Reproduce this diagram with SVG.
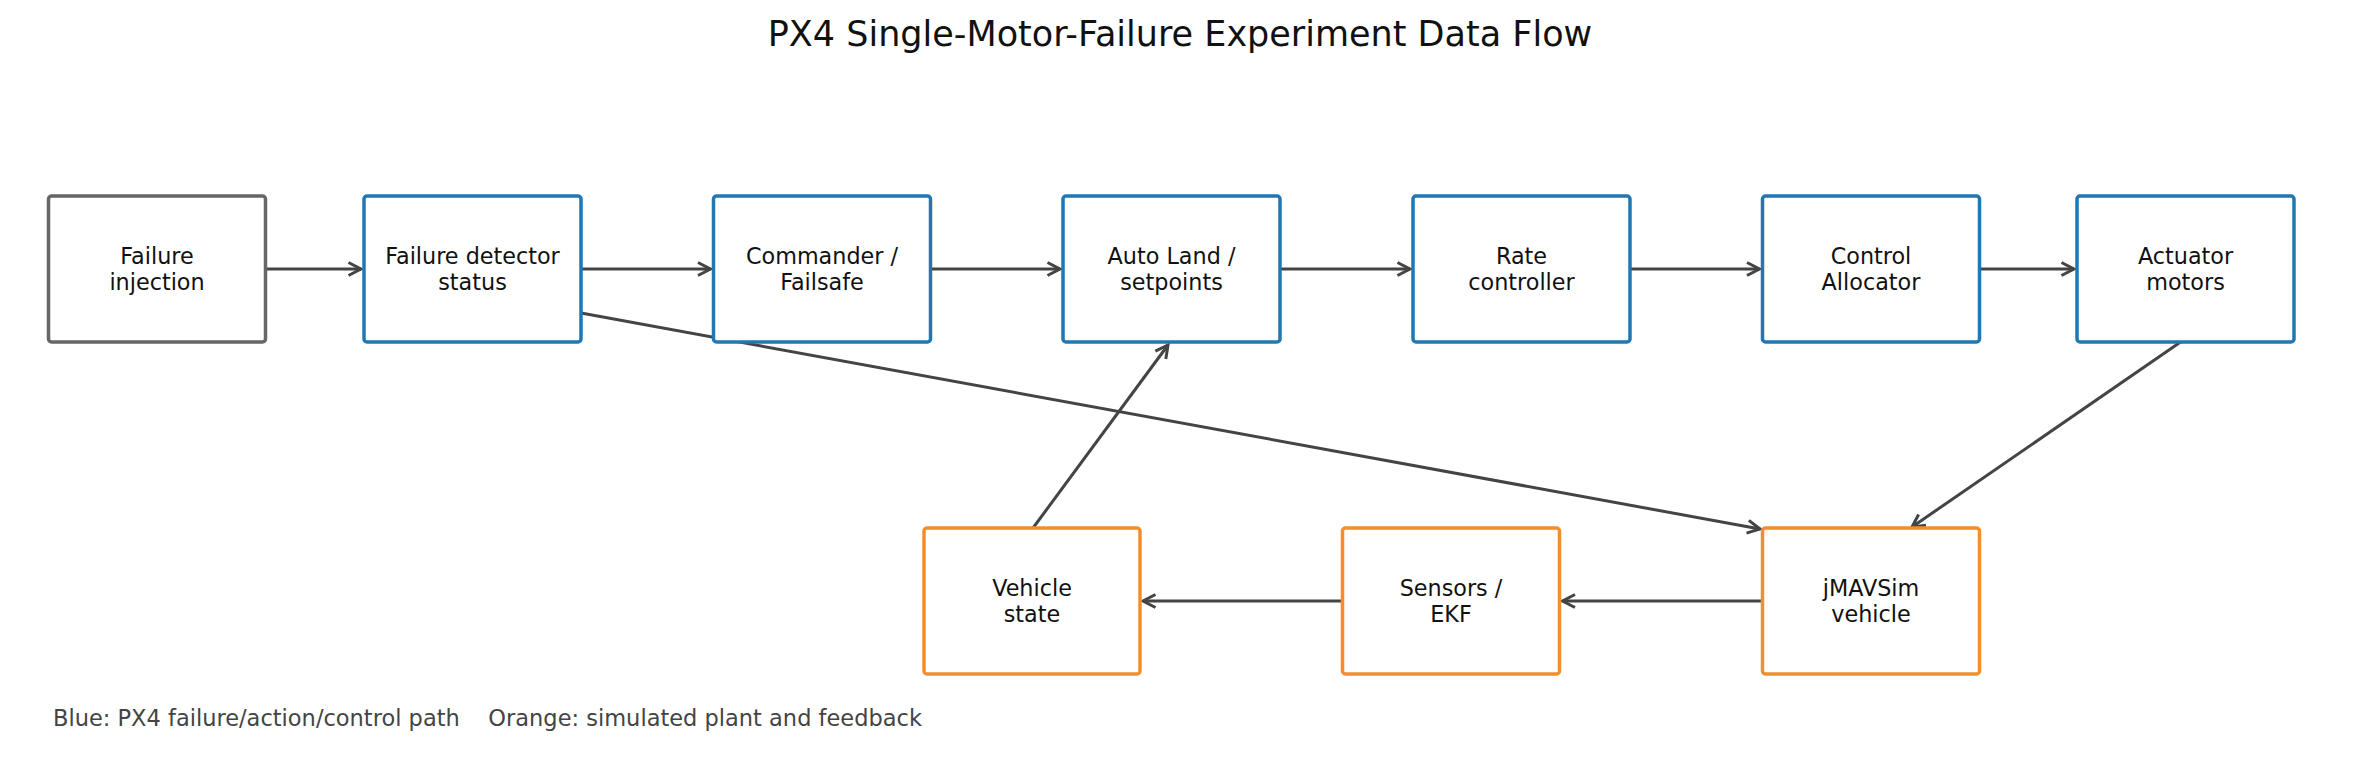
<svg xmlns="http://www.w3.org/2000/svg" width="2360" height="776" viewBox="0 0 2360 776">
<style>
.bg{fill:#ffffff}
.box{fill:#ffffff;stroke-width:3.5}
.gray{stroke:#666666}
.blue{stroke:#1f77b4}
.orange{stroke:#f28e2b}
.lbl{font-family:"DejaVu Sans",sans-serif;font-size:22.3px;fill:#111111;text-anchor:middle}
.title{font-family:"DejaVu Sans",sans-serif;font-size:35px;fill:#111111;text-anchor:middle}
.note{font-family:"DejaVu Sans",sans-serif;font-size:22.5px;fill:#444444;white-space:pre}
.edge{fill:none;stroke:#444444;stroke-width:3;marker-end:url(#ah)}
</style>
<defs>
<marker id="ah" markerUnits="userSpaceOnUse" markerWidth="30" markerHeight="30" refX="0" refY="0" orient="auto" viewBox="-20 -15 30 30" overflow="visible">
<path d="M-12.5,-6.5 L0,0 L-12.5,6.5" fill="none" stroke="#444444" stroke-width="3" stroke-linejoin="miter"/>
</marker>
</defs>
<rect class="bg" x="0" y="0" width="2360" height="776"/>
<text class="title" x="1180" y="45.5">PX4 Single-Motor-Failure Experiment Data Flow</text>

<g id="connectors">
<line class="edge" x1="266" y1="269" x2="361" y2="269"/>
<line class="edge" x1="581" y1="269" x2="710.5" y2="269"/>
<line class="edge" x1="930.5" y1="269" x2="1060" y2="269"/>
<line class="edge" x1="1280" y1="269" x2="1410" y2="269"/>
<line class="edge" x1="1630" y1="269" x2="1759.5" y2="269"/>
<line class="edge" x1="1979.5" y1="269" x2="2074" y2="269"/>
<line class="edge" x1="2182" y1="341" x2="1912" y2="527"/>
<line class="edge" x1="1762.5" y1="601" x2="1562.5" y2="601"/>
<line class="edge" x1="1342.5" y1="601" x2="1143" y2="601"/>
<line class="edge" x1="1033" y1="528" x2="1168" y2="345"/>
<line class="edge" x1="581" y1="313" x2="1760" y2="529"/>
</g>

<g id="n-failure-injection">
<rect class="box gray" x="48.5" y="196" width="217" height="146" rx="3"/>
<text class="lbl" x="157" y="264">Failure</text>
<text class="lbl" x="157" y="290">injection</text>
</g>
<g id="n-failure-detector">
<rect class="box blue" x="364" y="196" width="217" height="146" rx="3"/>
<text class="lbl" x="472.5" y="264">Failure detector</text>
<text class="lbl" x="472.5" y="290">status</text>
</g>
<g id="n-commander">
<rect class="box blue" x="713.5" y="196" width="217" height="146" rx="3"/>
<text class="lbl" x="822" y="264">Commander /</text>
<text class="lbl" x="822" y="290">Failsafe</text>
</g>
<g id="n-autoland">
<rect class="box blue" x="1063" y="196" width="217" height="146" rx="3"/>
<text class="lbl" x="1171.5" y="264">Auto Land /</text>
<text class="lbl" x="1171.5" y="290">setpoints</text>
</g>
<g id="n-rate">
<rect class="box blue" x="1413" y="196" width="217" height="146" rx="3"/>
<text class="lbl" x="1521.5" y="264">Rate</text>
<text class="lbl" x="1521.5" y="290">controller</text>
</g>
<g id="n-allocator">
<rect class="box blue" x="1762.5" y="196" width="217" height="146" rx="3"/>
<text class="lbl" x="1871" y="264">Control</text>
<text class="lbl" x="1871" y="290">Allocator</text>
</g>
<g id="n-actuator">
<rect class="box blue" x="2077" y="196" width="217" height="146" rx="3"/>
<text class="lbl" x="2185.5" y="264">Actuator</text>
<text class="lbl" x="2185.5" y="290">motors</text>
</g>
<g id="n-vehicle-state">
<rect class="box orange" x="924" y="528" width="216" height="146" rx="3"/>
<text class="lbl" x="1032" y="596">Vehicle</text>
<text class="lbl" x="1032" y="622">state</text>
</g>
<g id="n-sensors">
<rect class="box orange" x="1342.5" y="528" width="217" height="146" rx="3"/>
<text class="lbl" x="1451" y="596">Sensors /</text>
<text class="lbl" x="1451" y="622">EKF</text>
</g>
<g id="n-jmavsim">
<rect class="box orange" x="1762.5" y="528" width="217" height="146" rx="3"/>
<text class="lbl" x="1871" y="596">jMAVSim</text>
<text class="lbl" x="1871" y="622">vehicle</text>
</g>

<text class="note" x="53" y="726">Blue: PX4 failure/action/control path    Orange: simulated plant and feedback</text>
</svg>
